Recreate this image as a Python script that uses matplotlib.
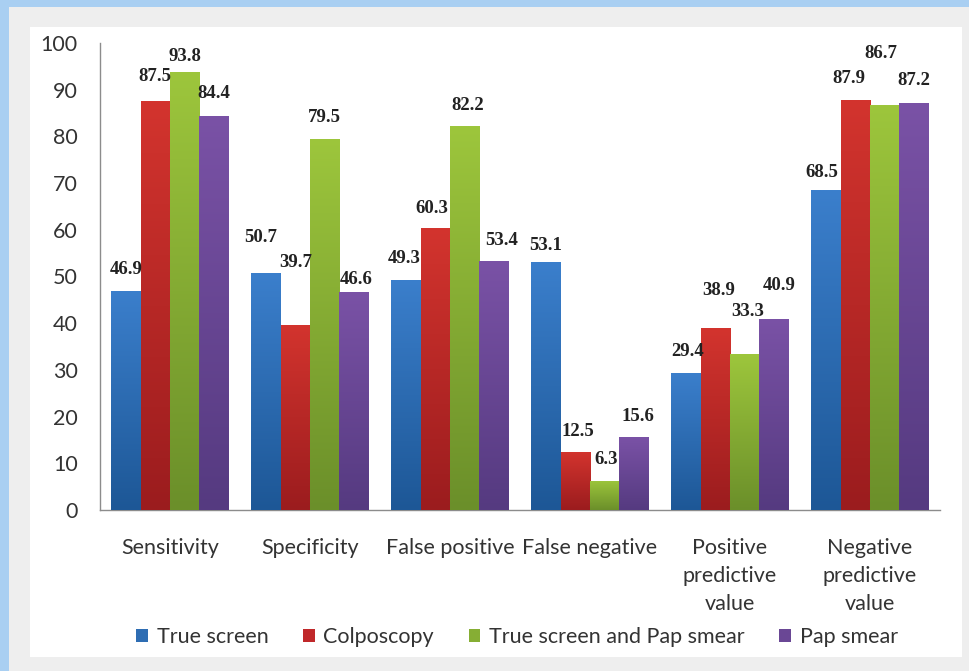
import numpy as np
import matplotlib
matplotlib.use("Agg")
import matplotlib.pyplot as plt
from matplotlib.colors import LinearSegmentedColormap
from matplotlib.patches import Rectangle

categories = ["Sensitivity", "Specificity", "False positive", "False negative",
              "Positive\npredictive\nvalue", "Negative\npredictive\nvalue"]
series_names = ["True screen", "Colposcopy", "True screen and Pap smear", "Pap smear"]
true_screen = [46.9, 50.7, 49.3, 53.1, 29.4, 68.5]
colposcopy = [87.5, 39.7, 60.3, 12.5, 38.9, 87.9]
ts_and_pap = [93.8, 79.5, 82.2, 6.3, 33.3, 86.7]
pap_smear = [84.4, 46.6, 53.4, 15.6, 40.9, 87.2]
y_ticks = [0, 10, 20, 30, 40, 50, 60, 70, 80, 90, 100]

series = [true_screen, colposcopy, ts_and_pap, pap_smear]

# styling: gradient colours (top, bottom) and manual label nudges (pixels)
top_colors = ["#3b7fcc", "#d3342e", "#9dc63c", "#7a52a6"]
bot_colors = ["#1d5796", "#9b1c1e", "#6b8f2a", "#553a80"]
solid_colors = ["#2e6db3", "#c0282a", "#86ae34", "#6a4795"]
label_dy = [[21, 25, 15, 22], [36, 62, 21, 13], [21, 20, 21, 20],
            [17, 20, 21, 21], [21, 38, 43, 33], [18, 21, 52, 22]]
label_dx = [[0, 0, 0, 0], [-5, 0, 0, 2], [-2, -3, 3, 8],
            [0, 3, 1, 4], [2, 3, 3, 5], [-4, -6, -4, 0]]

W, H = 969, 671
fig = plt.figure(figsize=(W / 100, H / 100), dpi=100)
fig.patch.set_facecolor("#a9cff2")
fig.add_artist(Rectangle((9 / W, 0), 1, 1 - 7 / H, transform=fig.transFigure,
                         facecolor="#eeeeee", edgecolor="none", zorder=-2))
fig.add_artist(Rectangle((30 / W, (H - 657) / H), (962 - 30) / W, (657 - 27) / H,
                         transform=fig.transFigure, facecolor="white",
                         edgecolor="none", zorder=-1))

ax = fig.add_axes([100 / W, (H - 510) / H, (940 - 100) / W, (510 - 43) / H])
ax.set_facecolor("none")

x = np.arange(len(categories))
bw = 0.21
offsets = (np.arange(4) - 1.5) * bw
grad = np.linspace(0, 1, 256).reshape(-1, 1)

for i, vals in enumerate(series):
    cmap = LinearSegmentedColormap.from_list("g%d" % i, [bot_colors[i], top_colors[i]])
    bars = ax.bar(x + offsets[i], vals, bw, color=solid_colors[i],
                  edgecolor="none", label=series_names[i], zorder=2)
    for j, b in enumerate(bars):
        x0 = b.get_x()
        im = ax.imshow(grad, extent=[x0, x0 + bw, 0, vals[j]], origin="lower",
                       cmap=cmap, aspect="auto", zorder=3)
        im.set_clip_path(b)
        ax.annotate(f"{vals[j]:.1f}", (x[j] + offsets[i], vals[j]),
                    xytext=(label_dx[j][i], label_dy[j][i]),
                    textcoords="offset pixels", ha="center", va="center",
                    fontsize=13.5, fontweight="bold", family="Liberation Serif",
                    color="#222222", zorder=5)

ax.set_xlim(-0.5, len(categories) - 0.5)
ax.set_ylim(0, 100)
ax.set_yticks(y_ticks)
ax.set_xticks(x)
ax.set_xticklabels(categories, linespacing=1.5)
for lab in ax.get_yticklabels() + ax.get_xticklabels():
    lab.set_family("Lato")
    lab.set_fontsize(15.5)
    lab.set_color("#333333")
ax.tick_params(axis="y", length=0, pad=16)
ax.tick_params(axis="x", length=0, pad=20)
for s in ["top", "right"]:
    ax.spines[s].set_visible(False)
for s in ["left", "bottom"]:
    ax.spines[s].set_color("#8c8c8c")
    ax.spines[s].set_linewidth(1.0)

handles = [Rectangle((0, 0), 1, 1, facecolor=c, edgecolor="none") for c in solid_colors]
leg = fig.legend(handles, series_names, loc="center", ncol=4,
                 bbox_to_anchor=(517 / W, (H - 637) / H), frameon=False,
                 handlelength=0.55, handleheight=0.55, handletextpad=0.4,
                 columnspacing=1.6, prop={"family": "Lato", "size": 15.5})
for t in leg.get_texts():
    t.set_color("#333333")

fig.savefig("out.png", dpi=100, facecolor=fig.get_facecolor())
